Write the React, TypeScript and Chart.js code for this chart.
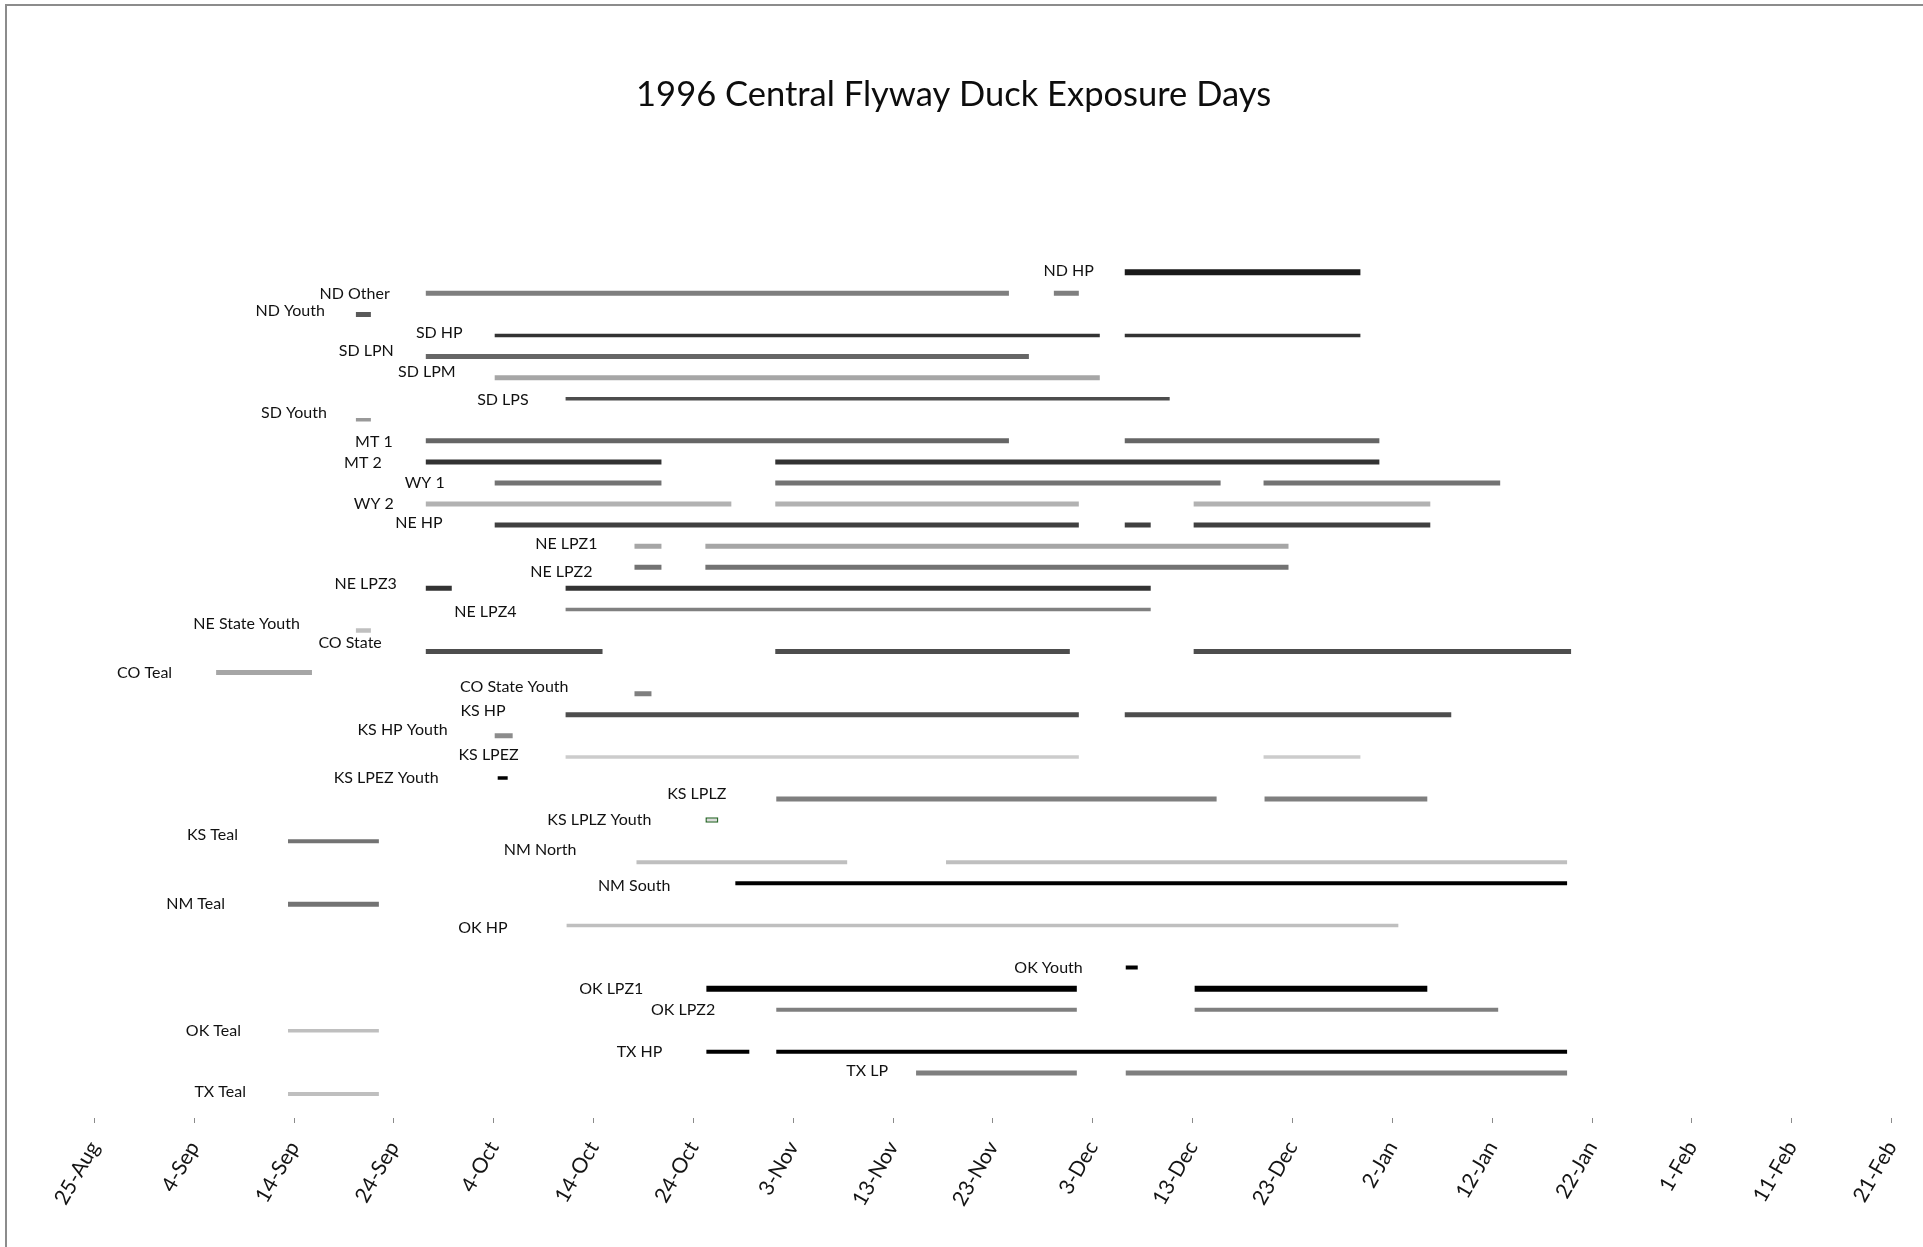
import React, { useEffect, useRef } from "react";
import { Chart, registerables } from "chart.js";

Chart.register(...registerables);

// ---- data (x values are days counted from 25-Aug-1996) ----
const chartTitle = "1996 Central Flyway Duck Exposure Days";

const rowLabels: string[] = [
  "ND HP", "ND Other", "ND Youth", "SD HP", "SD LPN", "SD LPM", "SD LPS", "SD Youth",
  "MT 1", "MT 2", "WY 1", "WY 2", "NE HP", "NE LPZ1", "NE LPZ2", "NE LPZ3", "NE LPZ4",
  "NE State Youth", "CO State", "CO Teal", "CO State Youth", "KS HP", "KS HP Youth",
  "KS LPEZ", "KS LPEZ Youth", "KS LPLZ", "KS LPLZ Youth", "KS Teal", "NM North",
  "NM South", "NM Teal", "OK HP", "", "OK Youth", "OK LPZ1", "OK LPZ2", "OK Teal",
  "TX HP", "TX LP", "TX Teal",
];

const seasonDays: number[][][] = [
  [[103.2, 126.8]],
  [[33.2, 91.6], [96.1, 98.6]],
  [[26.2, 27.7]],
  [[40.1, 100.7], [103.2, 126.8]],
  [[33.2, 93.6]],
  [[40.1, 100.7]],
  [[47.2, 107.7]],
  [[26.2, 27.7]],
  [[33.2, 91.6], [103.2, 128.7]],
  [[33.2, 56.8], [68.2, 128.7]],
  [[40.1, 56.8], [68.2, 112.8], [117.1, 140.8]],
  [[33.2, 63.8], [68.2, 98.6], [110.1, 133.8]],
  [[40.1, 98.6], [103.2, 105.8], [110.1, 133.8]],
  [[54.1, 56.8], [61.2, 119.6]],
  [[54.1, 56.8], [61.2, 119.6]],
  [[33.2, 35.8], [47.2, 105.8]],
  [[47.2, 105.8]],
  [[26.2, 27.7]],
  [[33.2, 50.9], [68.2, 97.7], [110.1, 147.9]],
  [[12.2, 21.8]],
  [[54.1, 55.8]],
  [[47.2, 98.6], [103.2, 135.9]],
  [[40.1, 41.9]],
  [[47.2, 98.6], [117.1, 126.8]],
  [[40.4, 41.4]],
  [[68.3, 112.4], [117.2, 133.5]],
  [[61.2, 62.5]],
  [[19.4, 28.5]],
  [[54.3, 75.4], [85.3, 147.5]],
  [[64.2, 147.5]],
  [[19.4, 28.5]],
  [[47.3, 130.6]],
  [],
  [[103.3, 104.5]],
  [[61.3, 98.4], [110.2, 133.5]],
  [[68.3, 98.4], [110.2, 140.6]],
  [[19.4, 28.5]],
  [[61.3, 65.6], [68.3, 147.5]],
  [[82.3, 98.4], [103.3, 147.5]],
  [[19.4, 28.5]],
];

const tickLabels: string[] = [
  "25-Aug", "4-Sep", "14-Sep", "24-Sep", "4-Oct", "14-Oct", "24-Oct", "3-Nov", "13-Nov",
  "23-Nov", "3-Dec", "13-Dec", "23-Dec", "2-Jan", "12-Jan", "22-Jan", "1-Feb", "11-Feb", "21-Feb",
];

// ---- styles ----
const rowColors: string[] = [
  "#1a1a1a", "#7f7f7f", "#595959", "#333333", "#666666", "#a6a6a6", "#4d4d4d", "#999999",
  "#666666", "#333333", "#737373", "#b2b2b2", "#404040", "#a6a6a6", "#737373", "#333333",
  "#808080", "#bfbfbf", "#4d4d4d", "#a6a6a6", "#7f7f7f", "#4d4d4d", "#8c8c8c", "#cccccc",
  "#000000", "#7f7f7f", "#dcdcdc", "#737373", "#bfbfbf", "#000000", "#737373", "#bfbfbf",
  "#000000", "#000000", "#000000", "#7f7f7f", "#bfbfbf", "#000000", "#7f7f7f", "#bfbfbf",
];
const rowThickness: number[] = [
  6, 5, 5, 3.5, 5, 5, 3.5, 3.5, 5, 5, 5, 5, 5, 5, 5, 5, 3.5, 4.5, 5, 5,
  5, 5, 5, 3.5, 3.5, 5, 5.5, 4, 4, 4, 5, 3.5, 0, 4, 6, 4, 3.5, 4, 5, 4,
];
const rowOutline: string[] = rowLabels.map((l) => (l === "KS LPLZ Youth" ? "#2e6b2e" : ""));
const labelGap: number[] = [
  31, 36, 31, 32, 32, 39, 37, 29, 33, 44, 50, 32, 52, 37, 42, 29, 49, 56, 44, 44,
  66, 60, 47, 47, 59, 50, 54, 50, 60, 65, 63, 59, 0, 43, 63, 61, 47, 44, 28, 42,
];
const labelRise: number[] = [
  -1, 0, -4, -2.5, -6, -6, 1, -7, 1, 1, 0, 0, -2.5, -2.5, 5, -4, 2.5, -7, -8.5, 0,
  -7, -4, -6, -2.5, 0, -5, 0, -6, -12, 2.5, -1, 2.5, 0, 0, 0, 0, 0, 0, -2.5, -2.5,
];

const AXIS_MIN = 0;
const AXIS_MAX = 180;
const TICK_STEP = 10;

const seasonLabelPlugin = {
  id: "seasonLabels",
  afterDatasetsDraw(chart: any) {
    const { ctx, scales } = chart;
    const xs = scales.x;
    const ys = scales.y;
    ctx.save();
    ctx.font = "16px Lato";
    ctx.fillStyle = "#111111";
    ctx.textAlign = "right";
    ctx.textBaseline = "middle";
    rowLabels.forEach((label, row) => {
      const segs = seasonDays[row];
      if (!label || !segs.length) return;
      const px = xs.getPixelForValue(segs[0][0]) - labelGap[row];
      const py = ys.getPixelForValue(row) + labelRise[row];
      ctx.fillText(label, px, py);
    });
    ctx.restore();
  },
};

export default function App() {
  const canvasRef = useRef<HTMLCanvasElement | null>(null);

  useEffect(() => {
    if (!canvasRef.current) return;
    const datasets: any[] = [];
    seasonDays.forEach((segs, row) => {
      segs.forEach(([s, e]) => {
        datasets.push({
          label: rowLabels[row],
          data: [{ x: [s, e], y: row }],
          backgroundColor: rowColors[row],
          borderColor: rowOutline[row] || rowColors[row],
          borderWidth: rowOutline[row] ? 1.5 : 0,
          borderSkipped: false,
          maxBarThickness: rowThickness[row],
          grouped: false,
        });
      });
    });

    const chart = new Chart(canvasRef.current, {
      type: "bar",
      data: { datasets },
      options: {
        animation: false,
        responsive: false,
        indexAxis: "y",
        layout: { padding: { left: 15.6, right: 31.4, top: 0, bottom: 0 } },
        plugins: {
          legend: { display: false },
          tooltip: { enabled: false },
          title: {
            display: true,
            text: chartTitle,
            color: "#0d0d0d",
            font: { family: "Lato", size: 34.5, weight: "normal" },
            padding: { top: 74, bottom: 124.6 },
          },
        },
        scales: {
          x: {
            type: "linear",
            position: "bottom",
            min: AXIS_MIN,
            max: AXIS_MAX,
            offset: false,
            grid: {
              display: true,
              drawOnChartArea: false,
              drawTicks: true,
              tickLength: 5,
              color: "#8a8a8a",
              lineWidth: 1,
            },
            border: { display: false },
            ticks: {
              stepSize: TICK_STEP,
              autoSkip: false,
              maxRotation: 60,
              minRotation: 60,
              padding: 14,
              color: "#141414",
              font: { family: "Lato", size: 21 },
              callback: (v: any) => tickLabels[Math.round((Number(v) - AXIS_MIN) / TICK_STEP)] ?? "",
            },
            afterFit: (s: any) => {
              s.height = 129;
              s.paddingLeft = 0;
              s.paddingRight = 0;
            },
          },
          y: {
            type: "linear",
            reverse: true,
            offset: false,
            min: -1.533,
            max: 40.14,
            grid: { display: false, offset: false },
            border: { display: false },
            ticks: { display: false },
            afterFit: (s: any) => {
              s.width = 78.7;
              s.paddingTop = 0;
              s.paddingBottom = 0;
            },
          },
        },
      } as any,
      plugins: [seasonLabelPlugin],
    });
    return () => chart.destroy();
  }, []);

  return (
    <div
      style={{
        position: "absolute",
        left: 0,
        top: 0,
        width: 1923,
        height: 1247,
        overflow: "hidden",
        background: "#ffffff",
      }}
    >
      <canvas
        ref={canvasRef}
        width={1923}
        height={1247}
        style={{ display: "block", width: 1923, height: 1247 }}
      />
      <div
        style={{
          position: "absolute",
          left: 5,
          top: 4,
          width: 2000,
          height: 1400,
          border: "2px solid #8c8c8c",
          boxSizing: "border-box",
          pointerEvents: "none",
        }}
      />
    </div>
  );
}
